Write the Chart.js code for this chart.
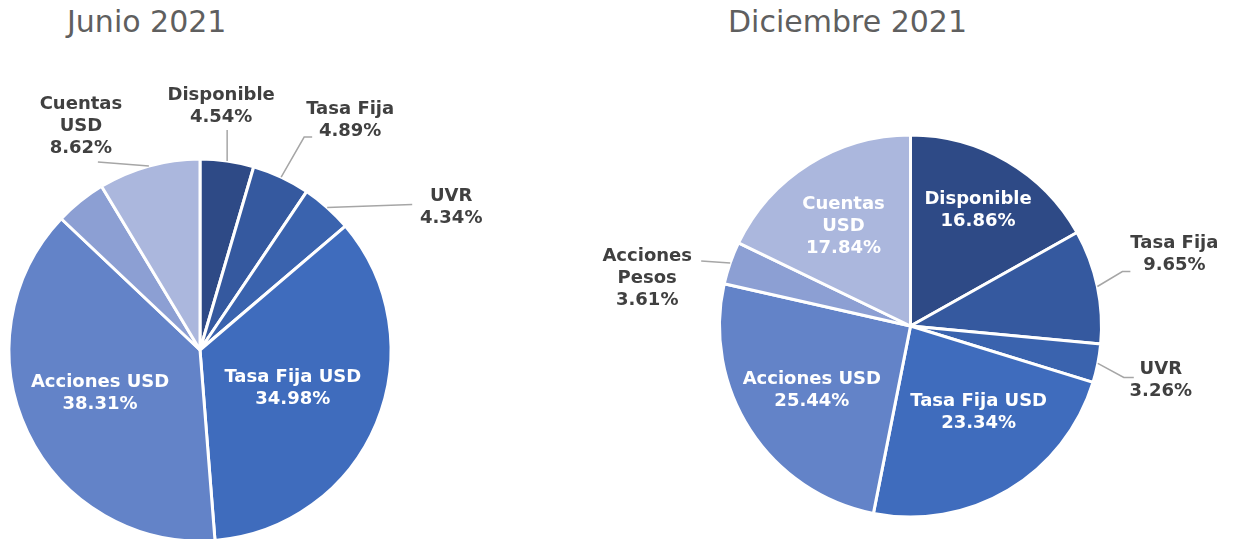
<!DOCTYPE html>
<html>
<head>
<meta charset="utf-8">
<script src="https://cdn.jsdelivr.net/npm/chart.js@4/dist/chart.umd.min.js"></script>
<style>
  html, body { margin: 0; padding: 0; background: #fff; overflow: hidden; }
  body { width: 1235px; height: 539px; position: relative; }
  .title {
    position: absolute; top: 7px; font-family: "DejaVu Sans", Verdana, sans-serif;
    font-size: 30px; line-height: 30px; color: #5f5f5f; white-space: nowrap;
  }
  canvas { position: absolute; top: 0; }
</style>
</head>
<body>
<div class="title" style="left:67px">Junio 2021</div>
<div class="title" style="left:728px">Diciembre 2021</div>
<canvas id="junio" width="620" height="560" style="left:0"></canvas>
<canvas id="diciembre" width="675" height="560" style="left:560px"></canvas>
<script>
var categories = ["Disponible", "Tasa Fija", "UVR", "Tasa Fija USD", "Acciones USD", "Acciones Pesos", "Cuentas USD"];
var junioValues = [4.54, 4.89, 4.34, 34.98, 38.31, 4.32, 8.62];
var diciembreValues = [16.86, 9.65, 3.26, 23.34, 25.44, 3.61, 17.84];

var sliceColors = ["#2e4a86", "#35599f", "#3a63ae", "#3f6cbd", "#6383c8", "#8c9fd3", "#abb7dd"];

// label placement per slice: f = fraction of radius along mid angle, dx/dy offset,
// leader = [dx, dy, horizontal tail] from the outer edge
var junioPlace = [
    { f: 1, dx: -6, dy: -55, leader: [0, -31, 0] },
    { f: 1, dx: 69, dy: -57, leader: [23, -40, 8] },
    { f: 1, dx: 124, dy: 0, leader: [85, -3, 0] },
    { f: 0.526, dx: 0, dy: 0, inside: true },
    { f: 0.58, dx: 0, dy: -4, inside: true },
    null,
    { f: 1, dx: -68, dy: -40, leader: [-51, -4, 0], wrap: true }
];
var diciembrePlace = [
    { f: 0.70, dx: 0, dy: 0, inside: true },
    { f: 1, dx: 77, dy: -32, leader: [25, -15, 8] },
    { f: 1, dx: 63, dy: 17, leader: [26, 14, 10] },
    { f: 0.574, dx: 12, dy: -8, inside: true },
    { f: 0.616, dx: 0, dy: 0, inside: true },
    { f: 1, dx: -83, dy: 15, leader: [-29, -2, 0], wrap: true },
    { f: 0.66, dx: 0, dy: 7, inside: true, wrap: true }
];

var sliceLabels = {
    id: "sliceLabels",
    afterDatasetsDraw: function (chart, args, opts) {
        var ctx = chart.ctx;
        var meta = chart.getDatasetMeta(0);
        var values = chart.data.datasets[0].data;
        ctx.save();
        ctx.font = "bold 18px 'DejaVu Sans', Verdana, sans-serif";
        ctx.textAlign = "center";
        ctx.textBaseline = "middle";
        meta.data.forEach(function (arc, i) {
            var p = opts.place[i];
            if (!p) return;
            var a = arc.getProps(["x", "y", "startAngle", "endAngle", "outerRadius"], true);
            var mid = (a.startAngle + a.endAngle) / 2;
            var ex = a.x + Math.cos(mid) * a.outerRadius;
            var ey = a.y + Math.sin(mid) * a.outerRadius;
            var lx = a.x + Math.cos(mid) * a.outerRadius * p.f + p.dx;
            var ly = a.y + Math.sin(mid) * a.outerRadius * p.f + p.dy;
            if (p.leader) {
                ctx.strokeStyle = "#a6a6a6";
                ctx.lineWidth = 1.5;
                ctx.beginPath();
                ctx.moveTo(ex, ey);
                ctx.lineTo(ex + p.leader[0], ey + p.leader[1]);
                if (p.leader[2]) ctx.lineTo(ex + p.leader[0] + p.leader[2], ey + p.leader[1]);
                ctx.stroke();
            }
            var name = chart.data.labels[i];
            var lines = p.wrap ? name.split(" ") : [name];
            lines.push(values[i].toFixed(2) + "%");
            ctx.fillStyle = p.inside ? "#ffffff" : "#404040";
            var lh = 22;
            var top = ly - (lines.length - 1) * lh / 2;
            lines.forEach(function (t, k) {
                ctx.fillText(t, lx, top + k * lh);
            });
        });
        ctx.restore();
    }
};

function makePie(id, values, place, padding) {
    return new Chart(document.getElementById(id), {
        type: "pie",
        data: {
            labels: categories,
            datasets: [{
                data: values,
                backgroundColor: sliceColors,
                borderColor: "#ffffff",
                borderWidth: 3
            }]
        },
        options: {
            responsive: false,
            animation: false,
            devicePixelRatio: 1,
            radius: 191,
            layout: { padding: padding },
            plugins: {
                legend: { display: false },
                tooltip: { enabled: false },
                title: { display: false },
                sliceLabels: { place: place }
            }
        },
        plugins: [sliceLabels]
    });
}

makePie("junio", junioValues, junioPlace, { left: 0, right: 220, top: 150, bottom: 10 });
makePie("diciembre", diciembreValues, diciembrePlace, { left: 150.5, right: 124.5, top: 126, bottom: 34 });
</script>
</body>
</html>
